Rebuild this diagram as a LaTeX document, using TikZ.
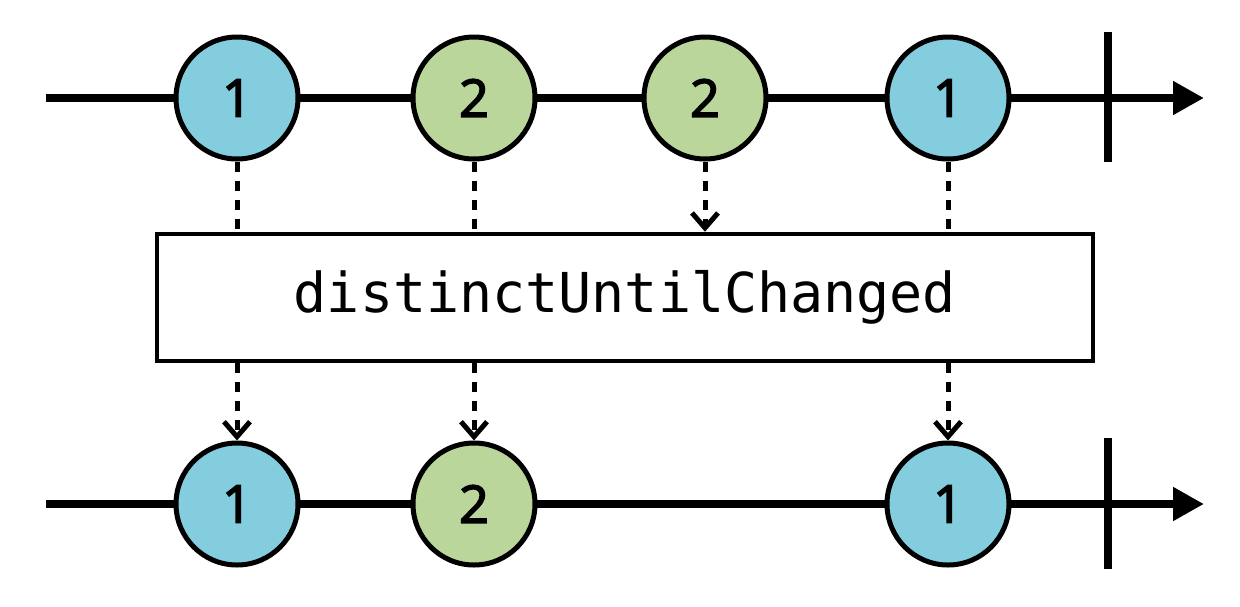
\documentclass[tikz,border=0pt]{standalone}
\usepackage{fontspec}
\setmonofont{DejaVu Sans Mono}
\newfontfamily\marblefont[FakeBold=3]{Open Sans}
\usetikzlibrary{arrows.meta}
\definecolor{marbleblue}{RGB}{131,205,222}
\definecolor{marblegreen}{RGB}{186,214,155}
\tikzset{
  timeline/.style={line width=8pt, -{Triangle[length=31pt,width=32pt]}},
  endbar/.style={line width=8pt},
  marble/.style={circle, draw=black, line width=5pt, minimum size=122pt, inner sep=0pt,
    font=\marblefont\fontsize{52}{52}\selectfont},
  bluemarble/.style={marble, fill=marbleblue},
  greenmarble/.style={marble, fill=marblegreen},
  opbox/.style={draw=black, line width=4.5pt, minimum width=936pt, minimum height=127pt,
    inner sep=0pt, font=\ttfamily\fontsize{55}{55}\selectfont},
  flow/.style={line width=5pt, dash pattern=on 10pt off 9pt},
  flowarrow/.style={flow, -{Straight Barb[length=15pt,width=26pt,line width=5pt]}},
}
\begin{document}
\begin{tikzpicture}[x=1pt,y=-1pt]
\useasboundingbox (0,0) rectangle (1240,606);

% source stream
\coordinate (s0) at (46,98);
\coordinate (s1) at (1204,98);
\draw[timeline] (s0) -- (s1);
\coordinate (sbt) at (1108,32);
\coordinate (sbb) at (1108,162);
\draw[endbar] (sbt) -- (sbb);
\node[bluemarble]  (a1) at (237,98) {1};
\node[greenmarble] (a2) at (474,98) {2};
\node[greenmarble] (a3) at (705,98) {2};
\node[bluemarble]  (a4) at (948,98) {1};

% operator
\node[opbox] (op) at (625,297.5) {distinctUntilChanged};

% result stream
\coordinate (r0) at (46,504);
\coordinate (r1) at (1204,504);
\draw[timeline] (r0) -- (r1);
\coordinate (rbt) at (1108,438);
\coordinate (rbb) at (1108,569);
\draw[endbar] (rbt) -- (rbb);
\node[bluemarble]  (b1) at (237,504) {1};
\node[greenmarble] (b2) at (474,504) {2};
\node[bluemarble]  (b4) at (948,504) {1};

% flows into the operator
\draw[flow] (a1.south) -- (a1.south |- op.north);
\draw[flow] (a2.south) -- (a2.south |- op.north);
\draw[flowarrow] (a3.south) -- (a3.south |- op.north);
\draw[flow] (a4.south) -- (a4.south |- op.north);

% flows out of the operator
\draw[flowarrow] (b1.north |- op.south) -- (b1.north);
\draw[flowarrow] (b2.north |- op.south) -- (b2.north);
\draw[flowarrow] (b4.north |- op.south) -- (b4.north);
\end{tikzpicture}
\end{document}
